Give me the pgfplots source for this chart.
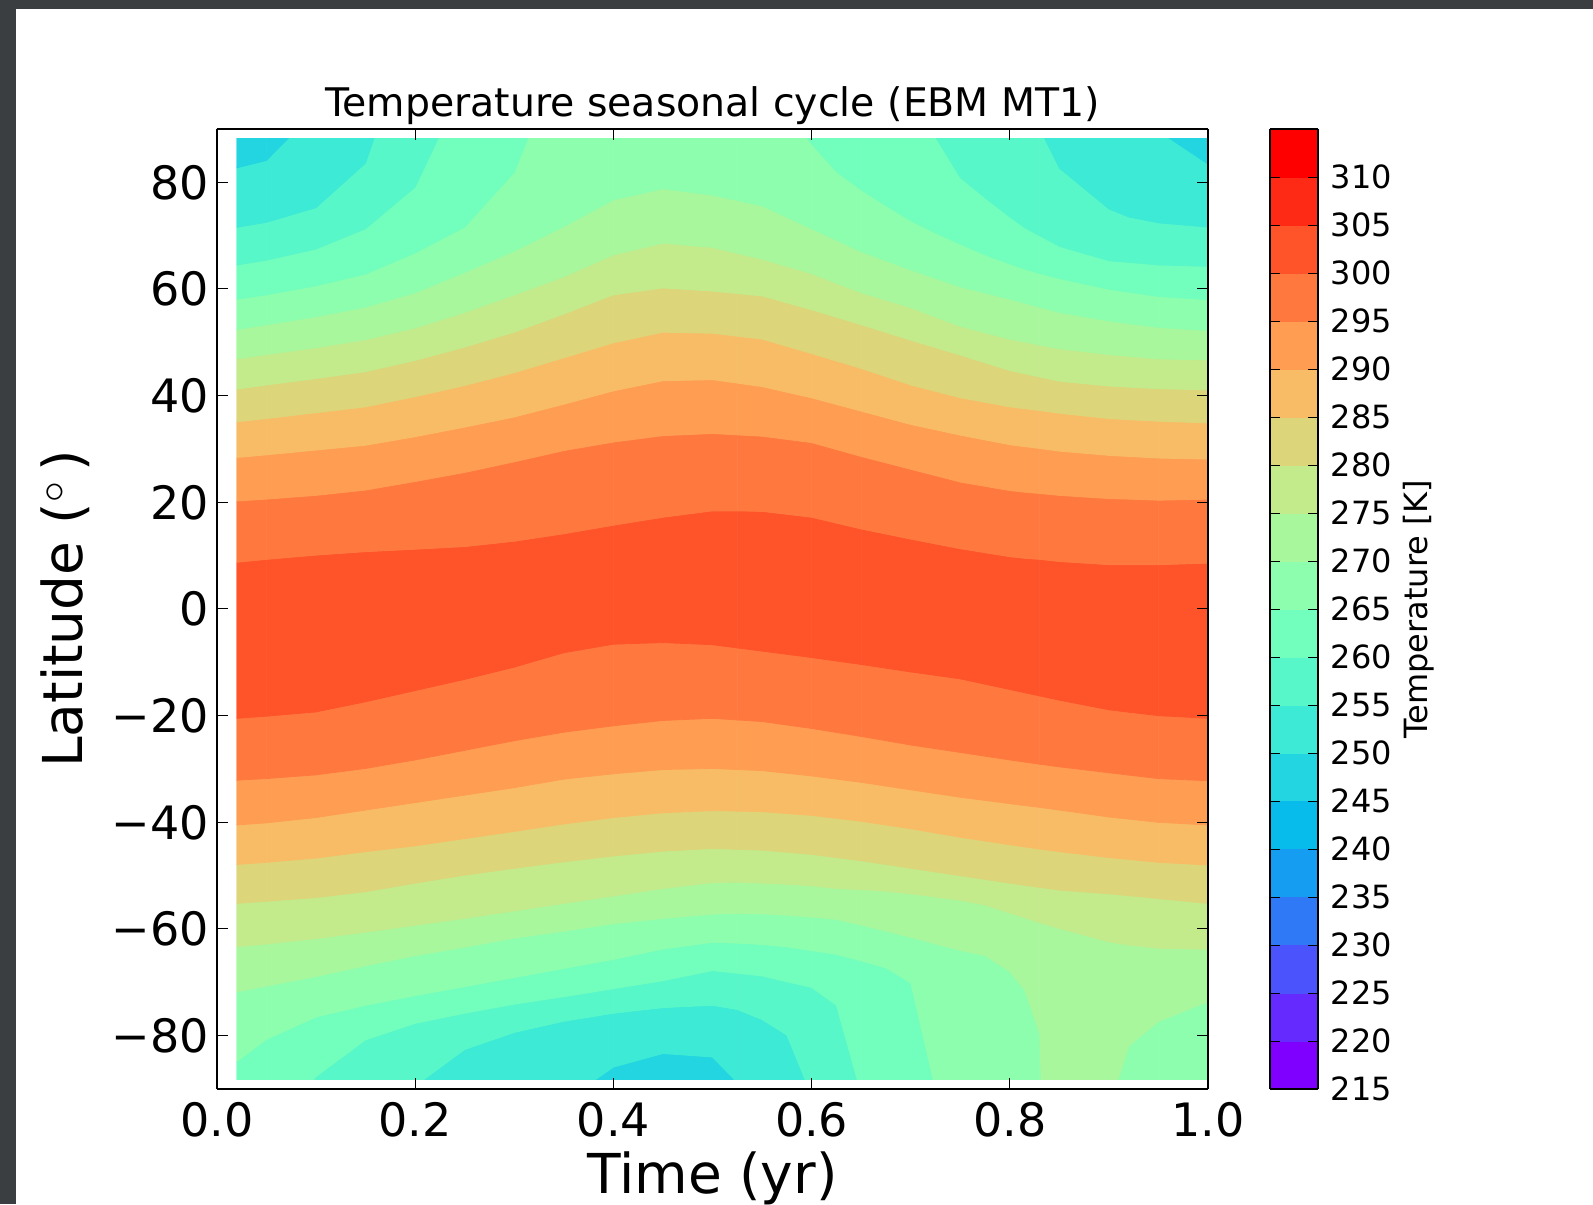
\documentclass[border=0pt]{standalone}
\usepackage{fontspec}
\setmainfont{DejaVu Sans}
\usepackage{pgfplots}
\pgfplotsset{compat=1.18}
\definecolor{slidebg}{RGB}{58,62,65}
\begin{document}
\begin{tikzpicture}
\path[use as bounding box] (-108.35pt,-57.5pt) rectangle (688.15pt,544.5pt);
\fill[slidebg] (-108.35pt,-57.5pt) rectangle (688.15pt,544.5pt);
\fill[white] (-100.35pt,-57.5pt) rectangle (688.15pt,540pt);
\begin{axis}[
  at={(0pt,0pt)}, anchor=south west,
  scale only axis, width=495.8pt, height=480pt,
  view={0}{90},
  xmin=0, xmax=1, ymin=-90, ymax=90,
  xtick={0,0.2,0.4,0.6,0.8,1},
  xticklabels={0.0,0.2,0.4,0.6,0.8,1.0},
  ytick={-80,-60,-40,-20,0,20,40,60,80},
  yticklabels={−80,−60,−40,−20,0,20,40,60,80},
  ztick=\empty,
  tick align=inside,
  major tick length=5.5pt,
  every tick/.style={black, line width=0.5pt},
  axis line style={line width=1pt},
  axis on top,
  xticklabel style={font=\fontsize{23pt}{23pt}\selectfont, inner sep=0pt, yshift=-6.35pt},
  yticklabel style={font=\fontsize{23pt}{23pt}\selectfont, inner sep=0pt, xshift=-3.7pt},
  title={Temperature seasonal cycle (EBM MT1)},
  title style={at={([yshift=0.15pt]axis description cs:0.5,1)}, anchor=base, inner sep=0pt, font=\fontsize{19.7pt}{19.7pt}\selectfont},
  xlabel={Time (yr)},
  xlabel style={at={([yshift=-52.5pt]axis description cs:0.5,0)}, anchor=base, inner sep=0pt, font=\fontsize{27.5pt}{27.5pt}\selectfont},
  ylabel={Latitude (${}^{\circ}$\,)},
  ylabel style={at={([xshift=-66.85pt]axis description cs:0,0.5)}, anchor=base, inner sep=0pt, font=\fontsize{27.5pt}{27.5pt}\selectfont},
  colormap={ebm}{rgb255=(128,0,255) rgb255=(101,42,254) rgb255=(74,83,252) rgb255=(47,121,247) rgb255=(20,157,241) rgb255=(7,188,234) rgb255=(34,213,224) rgb255=(60,234,213) rgb255=(87,247,201) rgb255=(114,254,188) rgb255=(141,254,173) rgb255=(168,247,157) rgb255=(195,234,139) rgb255=(221,213,121) rgb255=(248,188,102) rgb255=(255,157,83) rgb255=(255,121,63) rgb255=(255,83,42) rgb255=(255,42,21) rgb255=(255,0,0)},
  colormap access=piecewise constant,
  point meta min=215, point meta max=315,
  colorbar,
  colorbar style={
    at={(parent axis.north east)}, anchor=north west, xshift=22.4pt,
    width=24pt,
    ytick={215,220,...,310},
    yticklabel pos=right,
    ytick align=inside,
    major tick length=5pt,
    every tick/.style={black, line width=0.5pt},
    axis line style={line width=1pt},
    /pgf/number format/assume math mode=true,
    yticklabel style={font=\fontsize{16pt}{16pt}\selectfont, inner sep=0pt, xshift=6.15pt},
    ylabel={Temperature [K]},
    ylabel style={at={([xshift=42.15pt]axis description cs:1,0.5)}, anchor=north, inner sep=0pt, font=\fontsize{16pt}{16pt}\selectfont},
  },
]
\clip (axis cs:0.02,-88.3,250) rectangle (axis cs:1,88.3,250);
\addplot3[surf, shader=faceted, faceted color=mapped color, line width=0.4pt, line join=round, point meta=z] coordinates {
(0.02,-300,247.5) (0.05,-300,247.5) (0.1,-300,247.5) (0.15,-300,247.5) (0.2,-300,247.5) (0.25,-300,247.5) (0.3,-300,247.5) (0.35,-300,247.5) (0.4,-300,247.5) (0.45,-300,247.5) (0.5,-300,247.5) (0.525,-300,247.5) (0.55,-300,247.5) (0.575,-300,247.5) (0.6,-300,247.5) (0.625,-300,247.5) (0.65,-300,247.5) (0.675,-300,247.5) (0.7,-300,247.5) (0.725,-300,247.5) (0.75,-300,247.5) (0.775,-300,247.5) (0.8,-300,247.5) (0.815,-300,247.5) (0.83,-300,247.5) (0.85,-300,247.5) (0.9,-300,247.5) (0.92,-300,247.5) (0.95,-300,247.5) (1,-300,247.5)

(0.02,-115,250) (0.05,-110,250) (0.1,-105,250) (0.15,-100,250) (0.2,-95,250) (0.25,-90,250) (0.3,-90,250) (0.35,-92.4,250) (0.4,-85.9,250) (0.45,-83.35,250) (0.5,-84.0,250) (0.525,-88.8,250) (0.55,-95,250) (0.575,-97,250) (0.6,-100,250) (0.625,-100,250) (0.65,-102,250) (0.675,-105,250) (0.7,-110,250) (0.725,-112,250) (0.75,-120,250) (0.775,-125,250) (0.8,-130,250) (0.815,-135,250) (0.83,-140,250) (0.85,-215,250) (0.9,-115,250) (0.92,-110,250) (0.95,-107,250) (1,-105,250)

(0.02,-110,255) (0.05,-105,255) (0.1,-100,255) (0.15,-95,255) (0.2,-89.45,255) (0.25,-82.6,255) (0.3,-79.4,255) (0.35,-77.3,255) (0.4,-75.8,255) (0.45,-74.75,255) (0.5,-74.3,255) (0.525,-75.1,255) (0.55,-76.98,255) (0.575,-79.9,255) (0.6,-91.25,255) (0.625,-95,255) (0.65,-97,255) (0.675,-100,255) (0.7,-105,255) (0.725,-108,255) (0.75,-115,255) (0.775,-120,255) (0.8,-125,255) (0.815,-130,255) (0.83,-135,255) (0.85,-210,255) (0.9,-110,255) (0.92,-105,255) (0.95,-102,255) (1,-100,255)

(0.02,-102,260) (0.05,-99.7,260) (0.1,-87.7,260) (0.15,-80.8,260) (0.2,-77.7,260) (0.25,-75.8,260) (0.3,-74.1,260) (0.35,-72.7,260) (0.4,-71.2,260) (0.45,-69.7,260) (0.5,-67.8,260) (0.525,-68.3,260) (0.55,-68.8,260) (0.575,-69.9,260) (0.6,-70.96,260) (0.625,-74.3,260) (0.65,-90.97,260) (0.675,-95,260) (0.7,-100,260) (0.725,-102,260) (0.75,-110,260) (0.775,-115,260) (0.8,-120,260) (0.815,-125,260) (0.83,-130,260) (0.85,-205,260) (0.9,-105,260) (0.92,-100,260) (0.95,-97,260) (1,-95,260)

(0.02,-84.9,265) (0.05,-80.7,265) (0.1,-76.5,265) (0.15,-74.3,265) (0.2,-72.5,265) (0.25,-70.8,265) (0.3,-69.1,265) (0.35,-67.4,265) (0.4,-65.7,265) (0.45,-63.75,265) (0.5,-62.5,265) (0.525,-62.65,265) (0.55,-62.9,265) (0.575,-63.35,265) (0.6,-64.05,265) (0.625,-64.75,265) (0.65,-65.98,265) (0.675,-67.3,265) (0.7,-70.1,265) (0.725,-90.2,265) (0.75,-100,265) (0.775,-105,265) (0.8,-110,265) (0.815,-115,265) (0.83,-120,265) (0.85,-200,265) (0.9,-100,265) (0.92,-95,265) (0.95,-92,265) (1,-90,265)

(0.02,-71.8,270) (0.05,-70.7,270) (0.1,-68.9,270) (0.15,-66.9,270) (0.2,-65.0,270) (0.25,-63.4,270) (0.3,-61.7,270) (0.35,-60.4,270) (0.4,-59.0,270) (0.45,-58.0,270) (0.5,-57.2,270) (0.525,-57.05,270) (0.55,-57.15,270) (0.575,-57.4,270) (0.6,-57.75,270) (0.625,-58.2,270) (0.65,-59.25,270) (0.675,-60.4,270) (0.7,-61.55,270) (0.725,-62.8,270) (0.75,-64.0,270) (0.775,-65.0,270) (0.8,-68.0,270) (0.815,-71.5,270) (0.83,-79.6,270) (0.85,-195.6,270) (0.9,-93.3,270) (0.92,-81.9,270) (0.95,-77.3,270) (1,-73.6,270)

(0.02,-63.3,275) (0.05,-62.8,275) (0.1,-61.8,275) (0.15,-60.6,275) (0.2,-59.3,275) (0.25,-58.0,275) (0.3,-56.6,275) (0.35,-55.2,275) (0.4,-53.8,275) (0.45,-52.4,275) (0.5,-51.3,275) (0.525,-51.2,275) (0.55,-51.4,275) (0.575,-51.6,275) (0.6,-51.9,275) (0.625,-52.4,275) (0.65,-52.6,275) (0.675,-52.9,275) (0.7,-53.4,275) (0.725,-54.0,275) (0.75,-54.6,275) (0.775,-55.5,275) (0.8,-57.0,275) (0.815,-57.9,275) (0.83,-58.8,275) (0.85,-59.9,275) (0.9,-62.4,275) (0.92,-63.0,275) (0.95,-63.6,275) (1,-63.8,275)

(0.02,-55.2,280) (0.05,-54.8,280) (0.1,-54.1,280) (0.15,-53.0,280) (0.2,-51.4,280) (0.25,-49.9,280) (0.3,-48.6,280) (0.35,-47.4,280) (0.4,-46.3,280) (0.45,-45.4,280) (0.5,-44.9,280) (0.525,-45.05,280) (0.55,-45.2,280) (0.575,-45.6,280) (0.6,-46.0,280) (0.625,-46.6,280) (0.65,-47.2,280) (0.675,-47.9,280) (0.7,-48.6,280) (0.725,-49.3,280) (0.75,-50.0,280) (0.775,-50.7,280) (0.8,-51.4,280) (0.815,-51.8,280) (0.83,-52.2,280) (0.85,-52.7,280) (0.9,-53.4,280) (0.92,-53.75,280) (0.95,-54.3,280) (1,-55.2,280)

(0.02,-47.9,285) (0.05,-47.5,285) (0.1,-46.7,285) (0.15,-45.5,285) (0.2,-44.4,285) (0.25,-43.05,285) (0.3,-41.7,285) (0.35,-40.3,285) (0.4,-39.1,285) (0.45,-38.2,285) (0.5,-37.8,285) (0.525,-37.9,285) (0.55,-38.0,285) (0.575,-38.35,285) (0.6,-38.7,285) (0.625,-39.25,285) (0.65,-39.8,285) (0.675,-40.5,285) (0.7,-41.2,285) (0.725,-42.0,285) (0.75,-42.8,285) (0.775,-43.5,285) (0.8,-44.2,285) (0.815,-44.6,285) (0.83,-45.0,285) (0.85,-45.5,285) (0.9,-46.6,285) (0.92,-46.95,285) (0.95,-47.5,285) (1,-48.0,285)

(0.02,-40.5,290) (0.05,-40.1,290) (0.1,-39.1,290) (0.15,-37.7,290) (0.2,-36.3,290) (0.25,-34.9,290) (0.3,-33.5,290) (0.35,-31.9,290) (0.4,-30.9,290) (0.45,-30.1,290) (0.5,-29.9,290) (0.525,-30.1,290) (0.55,-30.3,290) (0.575,-30.8,290) (0.6,-31.3,290) (0.625,-31.9,290) (0.65,-32.5,290) (0.675,-33.2,290) (0.7,-33.9,290) (0.725,-34.6,290) (0.75,-35.3,290) (0.775,-35.9,290) (0.8,-36.5,290) (0.815,-36.85,290) (0.83,-37.2,290) (0.85,-37.7,290) (0.9,-39.0,290) (0.92,-39.4,290) (0.95,-40.0,290) (1,-40.5,290)

(0.02,-32.1,295) (0.05,-31.8,295) (0.1,-31.1,295) (0.15,-29.9,295) (0.2,-28.3,295) (0.25,-26.5,295) (0.3,-24.7,295) (0.35,-23.1,295) (0.4,-21.9,295) (0.45,-20.9,295) (0.5,-20.5,295) (0.525,-20.8,295) (0.55,-21.1,295) (0.575,-21.75,295) (0.6,-22.4,295) (0.625,-23.15,295) (0.65,-23.9,295) (0.675,-24.7,295) (0.7,-25.5,295) (0.725,-26.2,295) (0.75,-26.9,295) (0.775,-27.6,295) (0.8,-28.3,295) (0.815,-28.7,295) (0.83,-29.1,295) (0.85,-29.6,295) (0.9,-30.7,295) (0.92,-31.15,295) (0.95,-31.8,295) (1,-32.2,295)

(0.02,-20.5,301) (0.05,-20.1,301) (0.1,-19.3,301) (0.15,-17.4,301) (0.2,-15.3,301) (0.25,-13.2,301) (0.3,-10.9,301) (0.35,-8.2,301) (0.4,-6.6,301) (0.45,-6.3,301) (0.5,-6.7,301) (0.525,-7.3,301) (0.55,-7.9,301) (0.575,-8.5,301) (0.6,-9.1,301) (0.625,-9.75,301) (0.65,-10.4,301) (0.675,-11.1,301) (0.7,-11.8,301) (0.725,-12.45,301) (0.75,-13.1,301) (0.775,-14.1,301) (0.8,-15.1,301) (0.815,-15.7,301) (0.83,-16.3,301) (0.85,-17.1,301) (0.9,-18.9,301) (0.92,-19.35,301) (0.95,-20.0,301) (1,-20.5,301)

(0.02,8.75,301) (0.05,9.3,301) (0.1,10.1,301) (0.15,10.75,301) (0.2,11.2,301) (0.25,11.7,301) (0.3,12.7,301) (0.35,14.1,301) (0.4,15.7,301) (0.45,17.2,301) (0.5,18.4,301) (0.525,18.4,301) (0.55,18.3,301) (0.575,17.75,301) (0.6,17.2,301) (0.625,16.1,301) (0.65,15.0,301) (0.675,14.05,301) (0.7,13.1,301) (0.725,12.2,301) (0.75,11.3,301) (0.775,10.55,301) (0.8,9.8,301) (0.815,9.5,301) (0.83,9.3,301) (0.85,8.9,301) (0.9,8.3,301) (0.92,8.3,301) (0.95,8.3,301) (1,8.6,301)

(0.02,20.25,295) (0.05,20.6,295) (0.1,21.3,295) (0.15,22.3,295) (0.2,23.9,295) (0.25,25.6,295) (0.3,27.6,295) (0.35,29.7,295) (0.4,31.3,295) (0.45,32.5,295) (0.5,32.9,295) (0.525,32.65,295) (0.55,32.4,295) (0.575,31.8,295) (0.6,31.2,295) (0.625,29.9,295) (0.65,28.6,295) (0.675,27.4,295) (0.7,26.2,295) (0.725,25.0,295) (0.75,23.8,295) (0.775,23.0,295) (0.8,22.2,295) (0.815,21.9,295) (0.83,21.65,295) (0.85,21.3,295) (0.9,20.7,295) (0.92,20.6,295) (0.95,20.4,295) (1,20.6,295)

(0.02,28.4,290) (0.05,28.9,290) (0.1,29.8,290) (0.15,30.7,290) (0.2,32.3,290) (0.25,34.1,290) (0.3,36.0,290) (0.35,38.4,290) (0.4,40.9,290) (0.45,42.8,290) (0.5,43.0,290) (0.525,42.35,290) (0.55,41.7,290) (0.575,40.65,290) (0.6,39.6,290) (0.625,38.35,290) (0.65,37.1,290) (0.675,35.85,290) (0.7,34.6,290) (0.725,33.6,290) (0.75,32.6,290) (0.775,31.7,290) (0.8,30.8,290) (0.815,30.45,290) (0.83,30.1,290) (0.85,29.6,290) (0.9,28.8,290) (0.92,28.6,290) (0.95,28.3,290) (1,28.1,290)

(0.02,35.1,285) (0.05,35.7,285) (0.1,36.8,285) (0.15,37.9,285) (0.2,39.8,285) (0.25,41.9,285) (0.3,44.3,285) (0.35,47.1,285) (0.4,49.9,285) (0.45,51.9,285) (0.5,51.7,285) (0.525,51.15,285) (0.55,50.6,285) (0.575,49.25,285) (0.6,47.9,285) (0.625,46.5,285) (0.65,45.1,285) (0.675,43.55,285) (0.7,42.0,285) (0.725,40.8,285) (0.75,39.6,285) (0.775,38.75,285) (0.8,37.9,285) (0.815,37.55,285) (0.83,37.2,285) (0.85,36.7,285) (0.9,35.7,285) (0.92,35.5,285) (0.95,35.2,285) (1,34.9,285)

(0.02,41.2,280) (0.05,42.0,280) (0.1,43.2,280) (0.15,44.5,280) (0.2,46.6,280) (0.25,49.1,280) (0.3,51.9,280) (0.35,55.3,280) (0.4,58.9,280) (0.45,60.2,280) (0.5,59.6,280) (0.525,59.15,280) (0.55,58.7,280) (0.575,57.4,280) (0.6,56.1,280) (0.625,54.7,280) (0.65,53.3,280) (0.675,51.85,280) (0.7,50.4,280) (0.725,49.0,280) (0.75,47.6,280) (0.775,46.15,280) (0.8,44.7,280) (0.815,44.1,280) (0.83,43.5,280) (0.85,42.7,280) (0.9,41.8,280) (0.92,41.6,280) (0.95,41.3,280) (1,41.1,280)

(0.02,46.9,275) (0.05,47.7,275) (0.1,49.0,275) (0.15,50.5,275) (0.2,52.7,275) (0.25,55.6,275) (0.3,58.9,275) (0.35,62.3,275) (0.4,66.4,275) (0.45,68.6,275) (0.5,67.8,275) (0.525,66.7,275) (0.55,65.6,275) (0.575,64.25,275) (0.6,62.9,275) (0.625,61.1,275) (0.65,59.3,275) (0.675,57.9,275) (0.7,56.5,275) (0.725,54.75,275) (0.75,53.0,275) (0.775,51.8,275) (0.8,50.6,275) (0.815,50.05,275) (0.83,49.5,275) (0.85,48.8,275) (0.9,47.7,275) (0.92,47.4,275) (0.95,46.9,275) (1,46.7,275)

(0.02,52.4,270) (0.05,53.3,270) (0.1,54.8,270) (0.15,56.6,270) (0.2,59.3,270) (0.25,63.1,270) (0.3,67.1,270) (0.35,71.7,270) (0.4,76.7,270) (0.45,78.8,270) (0.5,77.6,270) (0.525,76.6,270) (0.55,75.6,270) (0.575,73.45,270) (0.6,71.3,270) (0.625,69.15,270) (0.65,67.0,270) (0.675,65.3,270) (0.7,63.6,270) (0.725,62.0,270) (0.75,60.4,270) (0.775,59.25,270) (0.8,58.1,270) (0.815,57.35,270) (0.83,56.6,270) (0.85,55.6,270) (0.9,54.0,270) (0.92,53.5,270) (0.95,52.8,270) (1,52.2,270)

(0.02,58.1,265) (0.05,58.9,265) (0.1,60.6,265) (0.15,62.8,265) (0.2,66.75,265) (0.25,71.6,265) (0.3,81.9,265) (0.35,104.8,265) (0.4,110,265) (0.45,112,265) (0.5,110,265) (0.525,105,265) (0.55,100,265) (0.575,93.5,265) (0.6,87.2,265) (0.625,82.0,265) (0.65,78.6,265) (0.675,75.6,265) (0.7,72.8,265) (0.725,70.5,265) (0.75,68.4,265) (0.775,66.4,265) (0.8,64.7,265) (0.815,63.75,265) (0.83,62.9,265) (0.85,61.95,265) (0.9,59.95,265) (0.92,59.4,265) (0.95,58.6,265) (1,58.0,265)

(0.02,64.5,260) (0.05,65.4,260) (0.1,67.5,260) (0.15,71.3,260) (0.2,79.1,260) (0.25,98.7,260) (0.3,105,260) (0.35,115,260) (0.4,120,260) (0.45,122,260) (0.5,120,260) (0.525,117,260) (0.55,115,260) (0.575,112,260) (0.6,110,260) (0.625,107,260) (0.65,105,260) (0.675,103,260) (0.7,100,260) (0.725,88.5,260) (0.75,80.9,260) (0.775,77.1,260) (0.8,73.5,260) (0.815,71.5,260) (0.83,70.0,260) (0.85,68.0,260) (0.9,65.3,260) (0.92,65.0,260) (0.95,64.5,260) (1,64.25,260)

(0.02,71.56,255) (0.05,72.5,255) (0.1,75.25,255) (0.15,83.6,255) (0.2,110.6,255) (0.25,115,255) (0.3,120,255) (0.35,125,255) (0.4,130,255) (0.45,132,255) (0.5,130,255) (0.525,127,255) (0.55,125,255) (0.575,122,255) (0.6,120,255) (0.625,117,255) (0.65,115,255) (0.675,113,255) (0.7,110,255) (0.725,108,255) (0.75,106,255) (0.775,105,255) (0.8,104,255) (0.815,100,255) (0.83,90.1,255) (0.85,82.65,255) (0.9,75.0,255) (0.92,73.5,255) (0.95,72.4,255) (1,71.6,255)

(0.02,82.7,250) (0.05,84.1,250) (0.1,93.5,250) (0.15,100,250) (0.2,120,250) (0.25,125,250) (0.3,130,250) (0.35,135,250) (0.4,140,250) (0.45,142,250) (0.5,140,250) (0.525,137,250) (0.55,135,250) (0.575,132,250) (0.6,130,250) (0.625,127,250) (0.65,125,250) (0.675,123,250) (0.7,120,250) (0.725,118,250) (0.75,116,250) (0.775,115,250) (0.8,114,250) (0.815,110,250) (0.83,105,250) (0.85,100,250) (0.9,96,250) (0.92,93,250) (0.95,89.6,250) (1,83.4,250)

(0.02,200,247.5) (0.05,200,247.5) (0.1,200,247.5) (0.15,200,247.5) (0.2,200,247.5) (0.25,200,247.5) (0.3,200,247.5) (0.35,200,247.5) (0.4,200,247.5) (0.45,200,247.5) (0.5,200,247.5) (0.525,200,247.5) (0.55,200,247.5) (0.575,200,247.5) (0.6,200,247.5) (0.625,200,247.5) (0.65,200,247.5) (0.675,200,247.5) (0.7,200,247.5) (0.725,200,247.5) (0.75,200,247.5) (0.775,200,247.5) (0.8,200,247.5) (0.815,200,247.5) (0.83,200,247.5) (0.85,200,247.5) (0.9,200,247.5) (0.92,200,247.5) (0.95,200,247.5) (1,200,247.5)
};
\end{axis}
\end{tikzpicture}
\end{document}
